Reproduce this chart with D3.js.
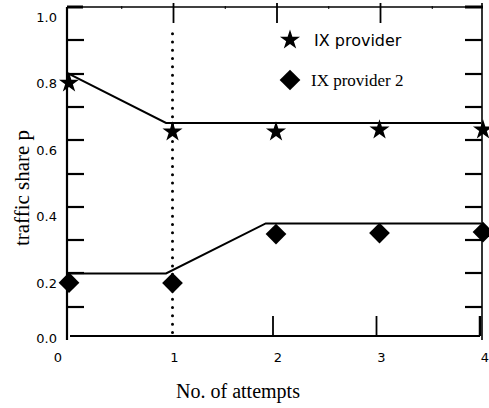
<!DOCTYPE html>
<html>
<head>
<meta charset="utf-8">
<script src="https://cdn.jsdelivr.net/npm/d3@7"></script>
<style>
  body { margin: 0; background: #fff; }
  svg { display: block; }
</style>
</head>
<body>
<div id="chart"></div>
<script>
// data
var attempts = [0, 1, 2, 3, 4];
var ixProvider = [0.772, 0.625, 0.625, 0.631, 0.631];
var ixProvider2 = [0.172, 0.171, 0.318, 0.321, 0.324];
// model lines drawn through the points
var fitX1 = [0, 0.957, 4];
var fitY1 = [0.802, 0.652, 0.652];
var fitX2 = [0, 0.957, 1.92, 4];
var fitY2 = [0.2, 0.2, 0.35, 0.35];
var yTicks = [0, 0.2, 0.4, 0.6, 0.8, 1.0];
var yMinor = [0.1, 0.2, 0.3, 0.4, 0.5, 0.6, 0.7, 0.8, 0.9];
var xTicks = [0, 1, 2, 3, 4];
var legendNames = ["IX provider", "IX provider 2"];

function drawChart() {
  var width = 489, height = 408;
  var x = d3.scaleLinear().domain([0, 4]).range([67, 481]);
  var y = d3.scaleLinear().domain([0, 1]).range([340, 7]);

  var svg = d3.select("#chart").append("svg")
    .attr("width", width)
    .attr("height", height);

  // left and right ticks (inside)
  var ticks = svg.append("g").attr("class", "sideticks")
    .attr("stroke", "#000").attr("stroke-width", 2.2);
  ticks.selectAll(".ltick").data(yMinor).enter().append("line")
    .attr("class", "ltick")
    .attr("x1", x(0)).attr("x2", x(0) + 17)
    .attr("y1", function(d) { return Math.round(y(d)); })
    .attr("y2", function(d) { return Math.round(y(d)); });
  ticks.selectAll(".rtick").data(yMinor).enter().append("line")
    .attr("class", "rtick")
    .attr("x1", x(4) + 1).attr("x2", x(4) - 16)
    .attr("y1", function(d) { return Math.round(y(d)); })
    .attr("y2", function(d) { return Math.round(y(d)); });

  // frame
  svg.append("line").attr("x1", x(0)).attr("x2", x(0)).attr("y1", y(1)).attr("y2", y(0))
    .attr("stroke", "#000").attr("stroke-width", 2.2);
  svg.append("line").attr("x1", x(0)).attr("x2", x(4) + 1).attr("y1", y(1)).attr("y2", y(1))
    .attr("stroke", "#000").attr("stroke-width", 1.6);
  svg.append("line").attr("x1", x(4) + 1).attr("x2", x(4) + 1).attr("y1", y(1) - 4).attr("y2", y(0))
    .attr("stroke", "#000").attr("stroke-width", 1.6);
  svg.append("line").attr("x1", x(0) + 3).attr("x2", x(4) - 1).attr("y1", y(0) - 4).attr("y2", y(0) - 4)
    .attr("stroke", "#000").attr("stroke-width", 2);

  // thick corner bits
  svg.append("line").attr("x1", x(0)).attr("x2", x(0) + 16).attr("y1", y(1)).attr("y2", y(1))
    .attr("stroke", "#000").attr("stroke-width", 3);
  svg.append("line").attr("x1", x(4) - 16).attr("x2", x(4) + 2).attr("y1", y(1)).attr("y2", y(1))
    .attr("stroke", "#000").attr("stroke-width", 3);
  svg.append("line").attr("x1", x(4) - 1).attr("x2", x(4) - 1).attr("y1", y(0) - 24).attr("y2", y(0) - 4)
    .attr("stroke", "#000").attr("stroke-width", 2.5);

  // top ticks
  svg.selectAll(".ttick").data([1, 2, 3]).enter().append("line")
    .attr("class", "ttick")
    .attr("x1", function(d) { return x(d) + 3; }).attr("x2", function(d) { return x(d) + 3; })
    .attr("y1", y(1) - 4).attr("y2", y(1) + 16)
    .attr("stroke", "#000").attr("stroke-width", 1.8);
  svg.selectAll(".tminor").data([0.5, 1.5, 2.5, 3.5]).enter().append("line")
    .attr("class", "tminor")
    .attr("x1", function(d) { return x(d) + 3; }).attr("x2", function(d) { return x(d) + 3; })
    .attr("y1", y(1) - 1).attr("y2", y(1) + 2)
    .attr("stroke", "#000").attr("stroke-width", 1);

  // bottom ticks
  svg.selectAll(".btick").data([2, 3]).enter().append("line")
    .attr("class", "btick")
    .attr("x1", function(d) { return x(d) - 1; }).attr("x2", function(d) { return x(d) - 1; })
    .attr("y1", y(0) - 4).attr("y2", y(0) - 24)
    .attr("stroke", "#000").attr("stroke-width", 1.8);

  // dotted line at attempt 1
  svg.append("line")
    .attr("x1", x(1) + 2).attr("x2", x(1) + 2)
    .attr("y1", y(0.92)).attr("y2", y(0) - 4)
    .attr("stroke", "#000").attr("stroke-width", 3)
    .attr("stroke-linecap", "round")
    .attr("stroke-dasharray", "0 8.3");

  // tick labels
  svg.selectAll(".ylab").data(yTicks).enter().append("text")
    .attr("class", "ylab")
    .attr("x", 57)
    .attr("y", function(d) { return Math.min(y(d) + 10, 338); })
    .attr("dy", "0.35em")
    .attr("text-anchor", "end")
    .attr("font-family", "DejaVu Sans")
    .attr("font-size", 13)
    .text(function(d) { return d.toFixed(1); });

  svg.selectAll(".xlab").data(xTicks).enter().append("text")
    .attr("class", "xlab")
    .attr("x", function(d) { return d == 0 ? x(d) - 9 : x(d) + 4; })
    .attr("y", 357)
    .attr("dy", "0.35em")
    .attr("text-anchor", "middle")
    .attr("font-family", "DejaVu Sans")
    .attr("font-size", 13)
    .text(function(d) { return d; });

  // axis titles
  svg.append("text")
    .attr("x", 238).attr("y", 398)
    .attr("text-anchor", "middle")
    .attr("font-family", "Liberation Serif")
    .attr("font-size", 20)
    .text("No. of attempts");
  svg.append("text")
    .attr("transform", "translate(29,188) rotate(-90)")
    .attr("text-anchor", "middle")
    .attr("font-family", "Liberation Serif")
    .attr("font-size", 21)
    .text("traffic share p");

  // fitted lines
  var line = d3.line()
    .x(function(d) { return x(d[0]); })
    .y(function(d) { return y(d[1]); });
  svg.append("path")
    .attr("d", line(d3.zip(fitX1, fitY1)))
    .attr("fill", "none").attr("stroke", "#000").attr("stroke-width", 2);
  svg.append("path")
    .attr("d", line(d3.zip(fitX2, fitY2)))
    .attr("fill", "none").attr("stroke", "#000").attr("stroke-width", 2);

  // markers
  var star = d3.symbol().type(d3.symbolStar).size(125);
  var diamond = d3.symbol().type(d3.symbolSquare).size(215);

  svg.selectAll(".star").data(d3.zip(attempts, ixProvider)).enter().append("path")
    .attr("class", "star")
    .attr("d", star)
    .attr("transform", function(d) { return "translate(" + (x(d[0]) + 2) + "," + y(d[1]) + ")"; })
    .attr("fill", "#000");
  svg.selectAll(".diamond").data(d3.zip(attempts, ixProvider2)).enter().append("path")
    .attr("class", "diamond")
    .attr("d", diamond)
    .attr("transform", function(d) { return "translate(" + (x(d[0]) + 2) + "," + y(d[1]) + ") rotate(45)"; })
    .attr("fill", "#000");

  // legend
  svg.append("path").attr("d", star).attr("transform", "translate(290,40)").attr("fill", "#000");
  svg.append("path").attr("d", diamond).attr("transform", "translate(290,80) rotate(45)").attr("fill", "#000");
  svg.append("text")
    .attr("x", 314).attr("y", 46)
    .attr("font-family", "DejaVu Sans")
    .attr("font-size", 16)
    .text(legendNames[0]);
  svg.append("text")
    .attr("x", 311).attr("y", 86)
    .attr("font-family", "Liberation Serif")
    .attr("font-size", 17)
    .text(legendNames[1]);
}

drawChart();
</script>
</body>
</html>
